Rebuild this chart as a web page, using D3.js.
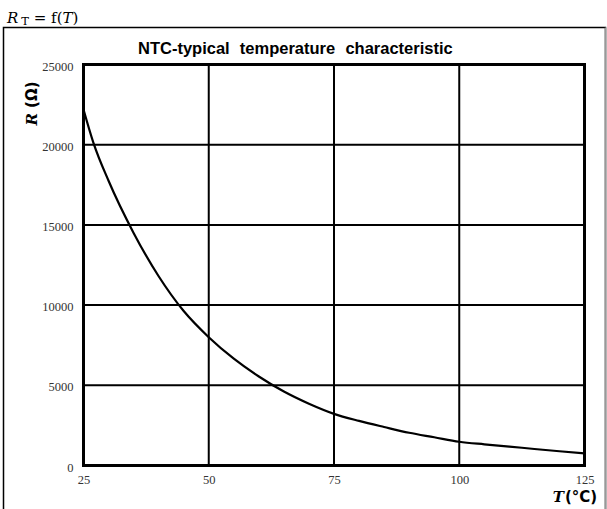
<!DOCTYPE html>
<html><head><meta charset="utf-8">
<script src="https://cdn.jsdelivr.net/npm/d3@7"></script>
<style>body{margin:0;background:#fff}svg{display:block}</style>
</head><body>
<script>
const temperatures = [25,27,30,35,40,45,50,55,60,65,70,75,80,85,90,95,100,105,110,115,120,125];
const resistances  = [22200,20100,17750,14500,11800,9630,8000,6660,5550,4610,3850,3220,2780,2400,2040,1760,1480,1320,1180,1030,890,760];
const xTicks = [25,50,75,100,125];
const yTicks = [0,5000,10000,15000,20000,25000];
const titleText = "NTC-typical  temperature  characteristic";

const W = 607, H = 509;
const svg = d3.select("body").append("svg").attr("width", W).attr("height", H);

// outer frame
svg.append("rect").attr("x",3.5).attr("y",27.5).attr("width",602).attr("height",500)
  .attr("fill","none").attr("stroke","#000").attr("stroke-width",1.5);
svg.append("line").attr("x1",605.5).attr("x2",605.5).attr("y1",27.5).attr("y2",509)
  .attr("stroke","#999").attr("stroke-width",1.5);

// top-left formula
const f = svg.append("text").attr("x",7).attr("y",23)
  .attr("font-family","'DejaVu Serif', 'Liberation Serif', serif").attr("font-size",15).attr("fill","#000");
f.append("tspan").attr("font-style","italic").text("R");
f.append("tspan").attr("font-size",11.5).attr("dx",3).attr("dy",1.5).text("T");
f.append("tspan").attr("dy",-1.5).text(" = f(");
f.append("tspan").attr("font-style","italic").text("T");
f.append("tspan").text(")");

const L = 83.5, R = 584.5, T = 64.5, B = 465.5;
const x = d3.scaleLinear().domain([25,125]).range([L,R]);
const y = d3.scaleLinear().domain([0,25000]).range([B,T]);

// grid
const g = svg.append("g");
g.selectAll("line.v").data(xTicks.slice(1,-1)).join("line")
  .attr("x1",d=>x(d)).attr("x2",d=>x(d)).attr("y1",T).attr("y2",B)
  .attr("stroke","#000").attr("stroke-width",2);
g.selectAll("line.h").data(yTicks.slice(1,-1)).join("line")
  .attr("y1",d=>y(d)).attr("y2",d=>y(d)).attr("x1",L).attr("x2",R)
  .attr("stroke","#000").attr("stroke-width",2);
g.append("rect").attr("x",L).attr("y",T).attr("width",R-L).attr("height",B-T)
  .attr("fill","none").attr("stroke","#000").attr("stroke-width",3);

// axes labels via d3 axes
const xAxis = svg.append("g").attr("transform",`translate(0,${B})`)
  .call(d3.axisBottom(x).tickValues(xTicks).tickSize(0).tickPadding(10).tickFormat(d3.format("d")));
const yAxis = svg.append("g").attr("transform",`translate(${L},0)`)
  .call(d3.axisLeft(y).tickValues(yTicks).tickSize(0).tickPadding(10).tickFormat(d3.format("d")));
[xAxis,yAxis].forEach(a=>{
  a.select(".domain").remove();
  a.selectAll("text").attr("font-family","'Liberation Serif', serif").attr("font-size",12.5).attr("fill","#333");
});
yAxis.selectAll("text").attr("dy","0.45em");

// curve
const line = d3.line().x((d,i)=>x(temperatures[i])).y(d=>y(d)).curve(d3.curveMonotoneX);
svg.append("path").attr("d",line(resistances)).attr("fill","none")
  .attr("stroke","#000").attr("stroke-width",2.2);

// title
svg.append("text").attr("x",138).attr("y",54).attr("font-family","'Liberation Sans', Arial, sans-serif")
  .attr("font-weight","bold").attr("font-size",16.5).attr("xml:space","preserve")
  .attr("word-spacing",0.5)
  .style("white-space","pre").text(titleText);

// y label
const yl = svg.append("text").attr("transform","translate(37,103.5) rotate(-90)")
  .attr("text-anchor","middle")
  .attr("font-weight","bold").attr("font-size",15).attr("fill","#000");
yl.append("tspan").attr("font-family","'DejaVu Serif', serif").attr("font-style","italic").text("R");
yl.append("tspan").attr("font-family","'DejaVu Sans', sans-serif").text(" (Ω)");

// x label
const xl = svg.append("text").attr("x",575).attr("y",502).attr("text-anchor","middle")
  .attr("font-weight","bold").attr("font-size",15).attr("fill","#000");
xl.append("tspan").attr("font-family","'DejaVu Serif', serif").attr("font-style","italic").text("T");
xl.append("tspan").attr("font-family","'DejaVu Sans', sans-serif").attr("dx",1).text("(°C)");
</script>
</body></html>
